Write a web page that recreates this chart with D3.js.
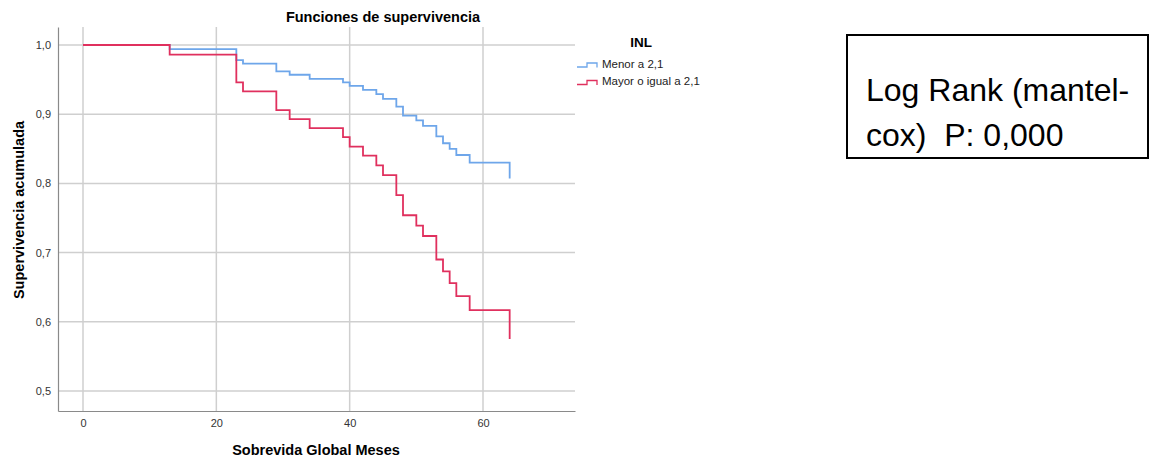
<!DOCTYPE html>
<html>
<head>
<meta charset="utf-8">
<script src="https://cdn.jsdelivr.net/npm/d3@7"></script>
<style>
  body { margin: 0; background: #fff; }
  svg { display: block; font-family: "Liberation Sans", Arial, sans-serif; }
</style>
</head>
<body>
<svg width="1150" height="460"></svg>
<script>
// tiempos de evento (meses) y supervivencia acumulada por grupo
const tiempos = [0, 13, 23, 24, 29, 31, 34, 39, 40, 42, 44, 45, 47, 48, 50, 51, 53, 54, 55, 56, 58, 64];
const survMenor = [1.0, 0.994, 0.978, 0.973, 0.962, 0.957, 0.951, 0.946, 0.941, 0.935, 0.929, 0.922,
                   0.911, 0.898, 0.891, 0.883, 0.868, 0.858, 0.850, 0.841, 0.830, 0.807];
const survMayor = [1.0, 0.986, 0.946, 0.933, 0.906, 0.893, 0.880, 0.867, 0.853, 0.840, 0.826, 0.812,
                   0.783, 0.754, 0.739, 0.724, 0.690, 0.673, 0.656, 0.637, 0.617, 0.575];
const grupos = ["Menor a 2,1", "Mayor o igual a 2,1"];
const colores = ["#6ea6ea", "#e0305e"];
const ticksX = [0, 20, 40, 60];
const ticksY = [0.5, 0.6, 0.7, 0.8, 0.9, 1.0];

const svg = d3.select("svg");

// area del grafico
const area = { left: 58, right: 575, top: 27, bottom: 411 };

const scX = d3.scaleLinear().domain([-3.75, 73.8]).range([area.left, area.right]);
const scY = d3.scaleLinear().domain([0.4711, 1.026]).range([area.bottom, area.top]);

// rejilla
svg.append("g")
    .selectAll("line.gx")
    .data(ticksX)
    .enter()
    .append("line")
    .attr("x1", d => scX(d)).attr("x2", d => scX(d))
    .attr("y1", area.top).attr("y2", area.bottom)
    .style("stroke", "#cfcfcf").style("stroke-width", 1.5);
svg.append("g")
    .selectAll("line.gy")
    .data(ticksY)
    .enter()
    .append("line")
    .attr("x1", area.left).attr("x2", area.right)
    .attr("y1", d => scY(d)).attr("y2", d => scY(d))
    .style("stroke", "#cfcfcf").style("stroke-width", 1.5);

// ejes
const fmt = d => d3.format(".1f")(d).replace(".", ",");
const gy = svg.append("g")
    .attr("transform", `translate(${area.left},0)`)
    .call(d3.axisLeft(scY).tickValues(ticksY).tickSize(0).tickPadding(7).tickFormat(fmt));
const gx = svg.append("g")
    .attr("transform", `translate(0,${area.bottom})`)
    .call(d3.axisBottom(scX).tickValues(ticksX).tickSize(0).tickPadding(8).tickFormat(d3.format("d")));
[gx, gy].forEach(g => {
    g.select(".domain").style("stroke", "#8a8a8a").style("stroke-width", 1.2);
    g.selectAll("text").style("font-size", "11px").style("fill", "#333")
        .style("font-family", "'Liberation Sans', Arial, sans-serif");
});

// curvas de supervivencia
const linea = d3.line()
    .x(d => scX(d[0]))
    .y(d => scY(d[1]))
    .curve(d3.curveStepAfter);

[survMenor, survMayor].forEach((s, i) => {
    svg.append("path")
        .datum(tiempos.map((t, j) => [t, s[j]]))
        .attr("d", linea)
        .style("fill", "none")
        .style("stroke", colores[i])
        .style("stroke-width", 1.8);
});

// titulos
svg.append("text")
    .attr("x", 383).attr("y", 21.5)
    .attr("text-anchor", "middle")
    .style("font-size", "14.5px").style("font-weight", "bold")
    .text("Funciones de supervivencia");
svg.append("text")
    .attr("x", 316).attr("y", 455)
    .attr("text-anchor", "middle")
    .style("font-size", "14.5px").style("font-weight", "bold")
    .text("Sobrevida Global Meses");
svg.append("text")
    .attr("transform", "translate(24,210) rotate(-90)")
    .attr("text-anchor", "middle")
    .style("font-size", "14.5px").style("font-weight", "bold")
    .text("Supervivencia acumulada");

// leyenda
svg.append("text")
    .attr("x", 641).attr("y", 46.5)
    .attr("text-anchor", "middle")
    .style("font-size", "13.5px").style("font-weight", "bold")
    .text("INL");
const leg = svg.append("g")
    .selectAll("g")
    .data(grupos)
    .enter()
    .append("g")
    .attr("transform", (d, i) => `translate(577,${63 + i * 17.5})`);
leg.append("path")
    .attr("d", "M0,4 H10 V0 H20 V4.5")
    .style("fill", "none")
    .style("stroke", (d, i) => colores[i])
    .style("stroke-width", 1.3);
leg.append("text")
    .attr("x", 25).attr("y", 4.5)
    .style("font-size", "11.5px").style("fill", "#222")
    .text(d => d);

// cuadro Log Rank
svg.append("rect")
    .attr("x", 847).attr("y", 35)
    .attr("width", 301).attr("height", 123)
    .style("fill", "#fff").style("stroke", "#000").style("stroke-width", 2);
svg.append("text")
    .attr("x", 866).attr("y", 100.5)
    .style("font-size", "32px")
    .text("Log Rank (mantel-");
svg.append("text")
    .attr("x", 866).attr("y", 146)
    .attr("xml:space", "preserve")
    .style("font-size", "32px")
    .style("white-space", "pre")
    .text("cox)  P: 0,000");
</script>
</body>
</html>
